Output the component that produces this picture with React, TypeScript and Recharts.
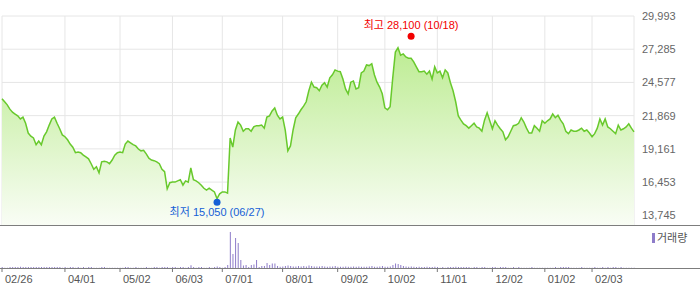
import React from 'react';
import { AreaChart, Area, BarChart, Bar, XAxis, YAxis, CartesianGrid, ReferenceDot } from 'recharts';

// Daily closing prices (KRW), 2024-02-26 .. 2025-02-25, one per trading day
const closes = [
  // Feb 26 - Mar 29
  23250, 23000, 22750, 22400, 22150, 22000, 21850, 21600, 21750, 21250, 20450, 20200, 20050, 19500, 19800, 19500, 20200, 20550, 21100, 21600, 21750, 21250, 20800, 20300,
  // April
  20150, 19900, 19550, 19300, 18850, 18900, 18850, 18650, 18500, 18350, 17950, 17500, 17700, 17200, 18100, 18150, 18100, 17950, 18250, 18650, 18850,
  // May
  18900, 18850, 19550, 19800, 19650, 19500, 19400, 19150, 19000, 19050, 18750, 18400, 18250, 18200, 18100, 17950, 17500, 17300, 15900, 16400,
  // June
  16450, 16450, 16550, 16650, 16200, 16550, 16450, 17600, 16650, 16550, 16400, 16200, 15950, 15800, 15950, 15800, 15650, 15100, 15500,
  // July
  15650, 15650, 15550, 20050, 19300, 20700, 21350, 21100, 20600, 20800, 20800, 20600, 20950, 21050, 21050, 21100, 20850, 21750, 21850, 22250, 22500, 21900, 21600,
  // August
  21750, 20700, 19000, 19400, 20700, 21700, 22000, 22350, 22650, 23000, 23900, 24600, 24200, 24150, 23900, 24350, 24550, 24200, 24950, 25200, 25600,
  // September
  25500, 25450, 24850, 24050, 23650, 24600, 24700, 24050, 24150, 25350, 25500, 26000, 25950, 26100, 25200, 24600, 24200, 23650,
  // October
  22500, 22350, 22600, 24950, 27050, 27400, 26800, 26900, 26650, 26550, 26550, 26250, 25850, 25450, 25450, 25500, 25250, 25500, 24850, 25850,
  // November
  25350, 25500, 24950, 25600, 25350, 24550, 23900, 23000, 21850, 21500, 21200, 21050, 20850, 21050, 21250, 20950, 20850, 20600, 21500, 22100, 21450,
  // December
  20800, 21450, 21100, 20800, 20550, 19900, 20150, 20600, 21050, 21100, 21250, 21700, 21350, 20850, 20450, 20450, 21050, 20850, 20600, 21450,
  // January
  21250, 21450, 21600, 22000, 21700, 21900, 21500, 21200, 20600, 20400, 20700, 20600, 20600, 20700, 20850, 20600, 20700, 20450,
  // February
  20150, 20400, 20850, 21600, 21100, 21600, 20950, 20800, 20600, 20400, 21100, 20700, 20800, 20950, 21200, 20850, 20550,
];

// Daily trading volume (thousand shares)
const volumes = [
  50, 10, 10, 50, 55, 50, 50, 60, 55, 50, 50, 50, 50, 55, 50, 50, 50, 55, 50, 50, 50, 50, 50, 10,
  50, 10, 50, 50, 10, 50, 10, 50, 10, 50, 50, 10, 10, 10, 50, 50, 10, 10, 10, 10, 10,
  10, 10, 50, 50, 10, 10, 50, 10, 10, 10, 50, 10, 10, 50, 50, 10, 50, 50, 50, 10,
  50, 50, 10, 50, 50, 10, 50, 140, 50, 10, 50, 50, 10, 10, 50, 10, 50, 80, 50,
  10, 50, 150, 1800, 700, 1500, 1250, 400, 120, 150, 50, 150, 180, 400, 50, 100, 100, 250, 150, 220, 220, 100, 60,
  80, 100, 120, 100, 80, 80, 100, 80, 100, 80, 130, 100, 80, 80, 80, 100, 80, 60, 80, 80, 100,
  60, 60, 60, 80, 60, 60, 80, 60, 80, 60, 60, 60, 80, 100, 60, 60, 80, 100,
  60, 60, 80, 150, 220, 200, 150, 100, 80, 60, 80, 60, 50, 60, 50, 50, 60, 50, 50, 60,
  50, 10, 50, 10, 50, 50, 50, 60, 50, 50, 50, 50, 50, 10, 50, 50, 10, 50, 50, 10, 10,
  50, 50, 10, 50, 50, 50, 10, 10, 50, 10, 50, 10, 10, 10, 10, 50, 10, 10, 10, 10,
  10, 10, 10, 10, 50, 10, 50, 50, 50, 50, 10, 10, 10, 10, 50, 10, 10, 10,
  10, 50, 10, 10, 50, 10, 50, 10, 50, 50, 10, 50, 10, 10, 10, 10, 10,
];

const tickIdx = [0, 24, 45, 65, 84, 107, 128, 146, 166, 187, 207, 225];
const tickLabels = ['02/26', '04/01', '05/02', '06/03', '07/01', '08/01', '09/02', '10/02', '11/01', '12/02', '01/02', '02/03'];
const priceTicks = [13745, 16453, 19161, 21869, 24577, 27285, 29993];
const priceDomain = [12954, 29993];
const volumeDomain = [0, 2100];

const high = { i: 156, value: 28100, label: '최고 28,100 (10/18)' };
const low = { i: 82, value: 15050, label: '최저 15,050 (06/27)' };
const legendLabel = '거래량';

const data = closes.map((close, i) => ({ i, close, volume: volumes[i] }));

const FONT = "'Liberation Sans', 'Noto Sans CJK KR', Arial, sans-serif";
const RED = '#f20000';
const BLUE = '#1560d6';

const PriceTick = (props: any) => {
  const { x, y, payload } = props;
  return (
    <text x={x} y={y} dy={4} textAnchor="start" fill="#666" fontSize={11} fontFamily={FONT}>
      {Number(payload.value).toLocaleString('en-US')}
    </text>
  );
};

const DateTick = (props: any) => {
  const { x, y, payload } = props;
  const k = tickIdx.indexOf(payload.value);
  return (
    <text x={x + 3} y={y} dy={9} textAnchor="start" fill="#555" fontSize={11} fontFamily={FONT}>
      {tickLabels[k]}
    </text>
  );
};

const HighMark = (props: any) => {
  const { cx, cy } = props;
  return (
    <g>
      <circle cx={cx} cy={cy - 3} r={3.5} fill={RED} />
      <text x={cx} y={cy - 10} textAnchor="middle" fill={RED} fontSize={11} fontFamily={FONT}>
        {high.label}
      </text>
    </g>
  );
};

const LowMark = (props: any) => {
  const { cx, cy } = props;
  return (
    <g>
      <circle cx={cx} cy={cy + 3} r={3.5} fill={BLUE} />
      <text x={cx} y={cy + 17} textAnchor="middle" fill={BLUE} fontSize={11} fontFamily={FONT}>
        {low.label}
      </text>
    </g>
  );
};

export default function App() {
  return (
    <div style={{ position: 'absolute', left: 0, top: 0, width: 700, height: 289, background: '#fff', overflow: 'hidden' }}>
      <div style={{ position: 'absolute', left: 0, top: 0 }}>
        <AreaChart width={700} height={225} data={data} margin={{ top: 16, right: 0, bottom: 0, left: 2 }}>
          <defs>
            <linearGradient id="priceFill" x1="0" y1="0" x2="0" y2="1">
              <stop offset="0%" stopColor="#bdec93" />
              <stop offset="100%" stopColor="#f9fdf5" />
            </linearGradient>
          </defs>
          <CartesianGrid stroke="#e6e6e6" strokeWidth={1} />
          <XAxis dataKey="i" type="number" domain={[0, closes.length - 1]} ticks={tickIdx} hide />
          <YAxis
            orientation="right"
            width={66}
            domain={priceDomain}
            ticks={priceTicks}
            axisLine={false}
            tickLine={false}
            tick={<PriceTick />}
            interval={0}
            allowDataOverflow
          />
          <Area
            type="linear"
            dataKey="close"
            stroke="#68c92c"
            strokeWidth={1.5}
            fill="url(#priceFill)"
            fillOpacity={1}
            isAnimationActive={false}
            dot={false}
            activeDot={false}
          />
          <ReferenceDot x={high.i} y={high.value} r={3} shape={HighMark} />
          <ReferenceDot x={low.i} y={low.value} r={3} shape={LowMark} />
        </AreaChart>
      </div>
      <div style={{ position: 'absolute', left: 0, top: 226 }}>
        <BarChart width={700} height={63} data={data} margin={{ top: 0, right: 66, bottom: 0, left: 2 }}>
          <XAxis
            dataKey="i"
            type="number"
            domain={[0, closes.length - 1]}
            ticks={tickIdx}
            interval={0}
            height={21}
            axisLine={false}
            tickLine={{ stroke: '#777' }}
            tickSize={4}
            tickMargin={2}
            tick={<DateTick />}
          />
          <YAxis hide domain={volumeDomain} />
          <Bar dataKey="volume" fill="#8e7cc9" barSize={1} isAnimationActive={false} />
        </BarChart>
      </div>
      <div style={{ position: 'absolute', left: 0, top: 225, width: 700, height: 1, background: '#7d7d7d' }} />
      <div style={{ position: 'absolute', left: 0, top: 268, width: 700, height: 1, background: '#7d7d7d' }} />
      <div style={{ position: 'absolute', left: 652, top: 233, width: 3, height: 10, background: '#8e7cc9' }} />
      <div style={{ position: 'absolute', left: 657, top: 231, fontSize: 11, lineHeight: '14px', color: '#555', fontFamily: FONT }}>
        {legendLabel}
      </div>
    </div>
  );
}
